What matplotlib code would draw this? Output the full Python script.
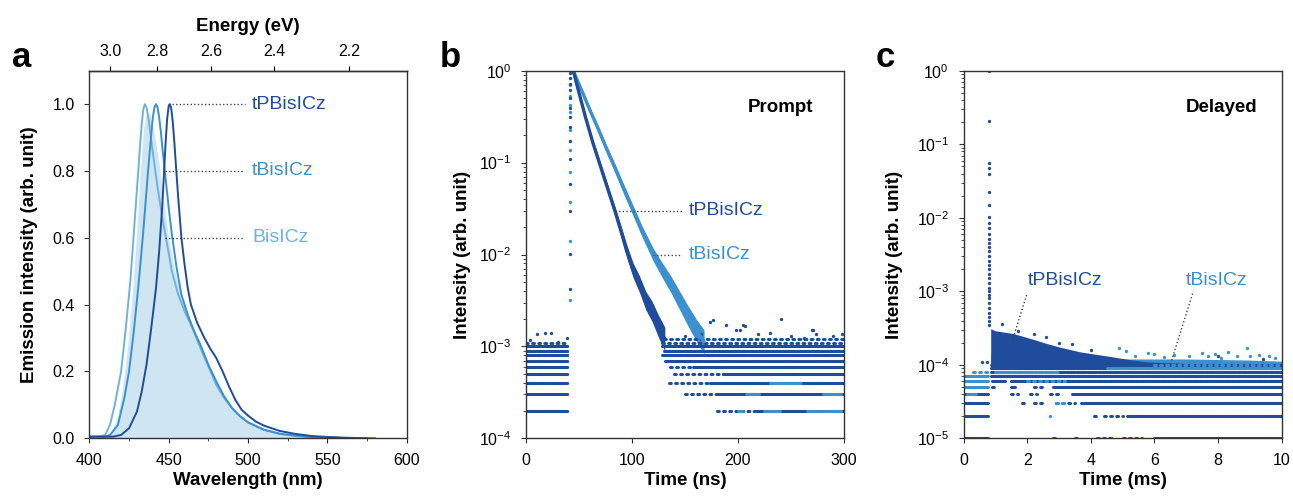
import numpy as np
import matplotlib
matplotlib.use("Agg")
import matplotlib.pyplot as plt

plt.rcParams['font.family'] = ['Liberation Sans', 'DejaVu Sans']
plt.rcParams['axes.linewidth'] = 1.0
plt.rcParams['axes.edgecolor'] = '#333333'
plt.rcParams['xtick.labelsize'] = 11.5
plt.rcParams['ytick.labelsize'] = 11.5
plt.rcParams['xtick.major.pad'] = 7
plt.rcParams['ytick.major.pad'] = 7

DARK = '#1f4c9c'
MID = '#3b90cf'
LIGHT = '#6db3e2'
FILL = '#cfe5f2'

# ---- panel a: emission spectra ----
wl_fill = [400, 410, 414, 418, 421, 424, 427, 430, 432, 434, 436, 438, 441, 444, 447, 450, 453, 456,
           460, 465, 470, 475, 480, 485, 490, 495, 500, 510, 520, 530, 540, 560, 580]
em_fill = [0.005, 0.005, 0.02, 0.07, 0.15, 0.27, 0.43, 0.63, 0.79, 0.92, 0.98, 0.97, 0.91, 0.82,
           0.70, 0.60, 0.52, 0.46, 0.40, 0.34, 0.28, 0.22, 0.17, 0.125, 0.09, 0.066, 0.048, 0.026,
           0.014, 0.008, 0.004, 0.001, 0.0]

wl_bis = [400, 406, 410, 413, 416, 420, 423, 426, 429, 431, 432, 433, 434, 435, 436, 437, 438, 439,
          441, 443, 446, 449, 452, 456, 460, 465, 470, 475, 480, 485, 490, 495, 500, 510, 520, 530,
          540, 560, 580]
em_bis = [0.005, 0.005, 0.01, 0.04, 0.10, 0.20, 0.33, 0.48, 0.68, 0.81, 0.88, 0.94, 0.985, 1.0, 0.99,
          0.965, 0.93, 0.89, 0.82, 0.75, 0.66, 0.58, 0.50, 0.43, 0.38, 0.33, 0.27, 0.215, 0.16, 0.12,
          0.09, 0.066, 0.047, 0.025, 0.013, 0.007, 0.004, 0.001, 0.0]

wl_tbis = [400, 410, 413, 418, 422, 425, 428, 431, 434, 437, 439, 440, 441, 442, 443, 444, 445, 446,
           448, 450, 452, 455, 458, 462, 466, 470, 475, 480, 485, 490, 495, 500, 510, 520, 530, 540,
           560, 580]
em_tbis = [0.005, 0.005, 0.01, 0.04, 0.12, 0.20, 0.32, 0.46, 0.62, 0.80, 0.91, 0.96, 0.99, 1.0, 0.99,
           0.96, 0.92, 0.87, 0.78, 0.69, 0.61, 0.51, 0.43, 0.37, 0.32, 0.28, 0.22, 0.17, 0.125, 0.09,
           0.066, 0.048, 0.026, 0.014, 0.008, 0.004, 0.001, 0.0]

wl_tpb = [400, 415, 420, 425, 430, 433, 436, 439, 442, 444, 446, 447, 448, 449, 450, 450.7, 451.5,
          452.5, 453.5, 454.5, 456, 458, 460, 462, 464, 468, 472, 476, 480, 484, 488, 492, 496, 500,
          505, 510, 520, 530, 540, 550, 560, 575]
em_tpb = [0.005, 0.005, 0.01, 0.03, 0.08, 0.14, 0.22, 0.33, 0.45, 0.56, 0.70, 0.79, 0.88, 0.955,
          0.995, 1.0, 0.99, 0.95, 0.89, 0.82, 0.72, 0.60, 0.52, 0.45, 0.40, 0.345, 0.305, 0.27, 0.24,
          0.20, 0.155, 0.115, 0.085, 0.068, 0.05, 0.038, 0.022, 0.013, 0.007, 0.004, 0.002, 0.0]

energy_ticks = [3.0, 2.8, 2.6, 2.4, 2.2]

# ---- panel b: prompt decay (time ns, log10 intensity, half width in decades) ----
tb_tpb = [44.6, 50, 56, 63, 70, 77, 84, 90, 95, 101, 107, 113, 119, 125, 131]
lb_tpb = [0, -0.24, -0.5, -0.78, -1.03, -1.28, -1.53, -1.76, -1.96, -2.17, -2.32, -2.5, -2.62, -2.78, -2.92]
wb_tpb = [0.02, 0.025, 0.03, 0.035, 0.04, 0.045, 0.05, 0.06, 0.07, 0.08, 0.09, 0.1, 0.11, 0.12, 0.13]

tb_tbis = [44.6, 52, 60, 68, 76, 84, 92, 101, 110, 120, 128, 137, 145, 153, 161, 168]
lb_tbis = [0, -0.2, -0.42, -0.63, -0.85, -1.06, -1.28, -1.52, -1.76, -2.0, -2.16, -2.33, -2.5, -2.67, -2.83, -2.95]
wb_tbis = [0.02, 0.025, 0.03, 0.035, 0.04, 0.045, 0.05, 0.055, 0.06, 0.07, 0.08, 0.09, 0.1, 0.11, 0.12, 0.13]

rise_t = 41.5
rise_tpb = [-0.03, -0.08, -0.14, -0.21, -0.30, -0.41, -0.50, -0.61, -0.77, -0.96, -1.23, -1.53, -1.99, -2.38]
rise_tbis = [-0.16, -0.27, -0.37, -0.45, -0.65, -0.86, -1.10, -1.43, -1.85, -2.49]

# noise rows: (counts x1e-4, start ns, end ns, dense?)
rows_b = [(2, 0, 40, 1), (3, 0, 40, 1), (4, 0, 40, 1), (5, 0, 40, 1), (6, 0, 40, 1), (7, 0, 40, 1),
          (8, 0, 40, 1), (9, 0, 40, 1), (10, 0, 40, 1), (11, 0, 40, 0),
          (12, 130, 300, 0), (11, 128, 300, 0), (10, 128, 300, 1), (9, 130, 300, 1), (8, 128, 300, 1),
          (7, 131, 300, 1), (6, 136, 158, 0), (6, 158, 300, 1), (5, 140, 186, 0), (5, 186, 300, 1),
          (4, 135, 174, 0), (4, 174, 300, 1), (3, 150, 180, 0), (3, 180, 300, 1),
          (2, 180, 218, 0), (2, 218, 300, 1)]
rows_b_light = [(3, 208, 220), (3, 280, 297), (2, 200, 205), (2, 225, 240), (2, 265, 297), (4, 230, 260)]
scat_b_t = [3.8, 10, 17.9, 23.3, 30.5, 38.4, 150, 165, 173.6, 176.4, 189, 198, 202, 205, 206.6, 219,
            230, 241, 250, 262, 269.5, 271, 274, 275.8, 290, 297.8]
scat_b_i = [1.17e-3, 1.38e-3, 1.4e-3, 1.4e-3, 1.12e-3, 1.22e-3, 1.3e-3, 1.35e-3, 1.85e-3, 1.95e-3,
            1.7e-3, 1.5e-3, 1.5e-3, 1.7e-3, 1.66e-3, 1.38e-3, 1.4e-3, 2.0e-3, 1.3e-3, 1.25e-3,
            1.5e-3, 1.5e-3, 1.35e-3, 1.2e-3, 1.3e-3, 1.35e-3]

# ---- panel c: delayed decay (time ms) ----
spike_t = 0.8
spike_i = [1.0, 0.21, 0.056, 0.047, 0.04, 0.0225, 0.0148, 0.0103, 0.0085, 0.0072, 0.006, 0.0052,
           0.0045, 0.004, 0.0035, 0.003, 0.0026, 0.0023, 0.002, 0.0017, 0.0015, 0.0013, 0.0011,
           0.001, 0.0009, 0.0008, 0.0007, 0.0006, 0.0005, 0.00045, 0.0004, 0.00035]
tc_tpb = [0.85, 1.0, 1.56, 2.0, 2.61, 3.0, 3.66, 4.2, 4.7, 5.2, 5.75, 6.3, 6.8, 7.3]
up_tpb = [3.1e-4, 2.9e-4, 2.66e-4, 2.35e-4, 1.95e-4, 1.75e-4, 1.5e-4, 1.38e-4, 1.28e-4, 1.18e-4,
          1.1e-4, 1.07e-4, 1.05e-4, 1.02e-4]
tc_tbis = [0.85, 2, 3, 4, 5, 6, 7, 8, 9, 10]
up_tbis = [1.45e-4, 1.3e-4, 1.25e-4, 1.22e-4, 1.2e-4, 1.2e-4, 1.2e-4, 1.18e-4, 1.16e-4, 1.12e-4]

# noise rows: (counts x1e-5, start ms, end ms, dense?)
rows_c = [(1, 0, 0.78, 1), (2, 0, 0.78, 1), (3, 0, 0.75, 1), (4, 0, 0.78, 1),
          (10, 0.85, 10, 1), (9, 0.85, 10, 1), (8, 0.85, 10, 1), (7, 0.85, 10, 1), (6, 0.9, 1.3, 1),
          (6, 1.5, 10, 1), (5, 0.9, 1.05, 0), (5, 1.5, 1.6, 1), (5, 2.2, 2.6, 0), (5, 2.8, 10, 1),
          (4, 1.5, 1.7, 0), (4, 2.1, 2.3, 0), (4, 2.7, 3.1, 0), (4, 3.4, 10, 1),
          (3, 1.85, 2.0, 0), (3, 2.2, 2.6, 0), (3, 2.9, 3.5, 0), (3, 3.7, 10, 1),
          (2, 4.1, 4.15, 0), (2, 4.4, 5.0, 0), (2, 5.15, 10, 1),
          (1, 2.8, 3.0, 0), (1, 3.5, 3.55, 0), (1, 4.2, 4.7, 0), (1, 5.0, 5.6, 0), (1, 6.0, 10, 1)]
rows_c_light = [(8, 0.3, 0.78, 0), (7, 0, 0.78, 1), (6, 0, 0.78, 1), (5, 0, 0.78, 1), (4, 0.1, 0.4, 1),
                (9, 4.5, 10, 1), (8, 1.0, 3.0, 1), (6, 2.0, 3.2, 0), (3, 2.9, 3.2, 0), (10, 6, 10, 0)]
scat_c_light_t = [2.7, 4.9, 5.1, 5.8, 6.0, 7.5, 8.3, 8.9, 9.3, 9.6, 6.6, 7.9, 5.4, 7.1, 8.6, 9.8,
                  6.3, 7.7, 8.1, 9.0]
scat_c_light_i = [2.0e-5, 1.7e-4, 1.55e-4, 1.45e-4, 1.4e-4, 1.45e-4, 1.5e-4, 1.7e-4, 1.35e-4, 1.3e-4,
                  1.35e-4, 1.4e-4, 1.3e-4, 1.3e-4, 1.3e-4, 1.25e-4, 1.28e-4, 1.32e-4, 1.25e-4, 1.3e-4]
scat_c_dark_t = [0.57, 0.72, 1.2, 2.6, 3.0, 4.0, 8.0, 9.4, 1.7, 2.2, 3.4]
scat_c_dark_i = [1.1e-4, 1.1e-4, 3.6e-4, 2.4e-4, 2.0e-4, 1.6e-4, 1.3e-4, 1.2e-4, 2.9e-4, 2.6e-4, 1.9e-4]


fig = plt.figure(figsize=(12.93, 4.96), dpi=100)
axa = fig.add_axes([0.0691, 0.1163, 0.2455, 0.7411])
axb = fig.add_axes([0.4068, 0.1163, 0.2459, 0.7411])
axc = fig.add_axes([0.7453, 0.1163, 0.2459, 0.7411])

lab_kw = dict(fontsize=13.5, fontweight='bold')
dot_kw = dict(color='#444444', lw=1.0, linestyle=(0, (1, 1.6)))

# ---- a ----
axa.fill_between(wl_fill, em_fill, 0, color=FILL, lw=0)
axa.plot(wl_bis, em_bis, color=LIGHT, lw=1.4)
axa.plot(wl_tbis, em_tbis, color=MID, lw=1.4)
axa.plot(wl_tpb, em_tpb, color=DARK, lw=1.4)
axa.set_xlim(400, 600)
axa.set_ylim(0, 1.1)
axa.set_xticks([400, 450, 500, 550, 600])
axa.set_xticks([425, 475, 525, 575], minor=True)
axa.set_yticks([0, 0.2, 0.4, 0.6, 0.8, 1.0])
axa.yaxis.set_major_formatter(matplotlib.ticker.FormatStrFormatter('%.1f'))
axa.set_xlabel('Wavelength (nm)', labelpad=3, **lab_kw)
axa.set_ylabel('Emission intensity (arb. unit)', labelpad=10, **lab_kw)
sec = axa.secondary_xaxis('top', functions=(lambda x: 1239.84 / x, lambda e: 1239.84 / e))
sec.set_xticks(energy_ticks)
sec.xaxis.set_major_formatter(matplotlib.ticker.FormatStrFormatter('%.1f'))
sec.tick_params(labelsize=11.5, pad=5)
sec.set_xlabel('Energy (eV)', labelpad=9, **lab_kw)
axa.plot([452.2, 498], [1.0, 1.0], **dot_kw)
axa.plot([447.7, 496.5], [0.8, 0.8], **dot_kw)
axa.plot([447.7, 496.5], [0.6, 0.6], **dot_kw)
axa.text(502.5, 1.0, 'tPBisICz', color=DARK, fontsize=14, va='center')
axa.text(502.5, 0.8, 'tBisICz', color=MID, fontsize=14, va='center')
axa.text(502.5, 0.6, 'BisICz', color=LIGHT, fontsize=14, va='center')


def draw_rows(ax, rows, unit, color):
    for r in rows:
        lv, t0, t1 = r[0] * unit, r[1], r[2]
        dense = r[3] if len(r) > 3 else 1
        if dense:
            ax.plot([t0, t1], [lv, lv], color=color, lw=2.2, linestyle=(0, (3, 0.5)),
                    dash_capstyle='round')
        else:
            ax.plot([t0, t1], [lv, lv], color=color, lw=2.2, linestyle=(0, (0.6, 1.4)),
                    dash_capstyle='round')


def draw_band(ax, t, logc, w, color):
    logc = np.array(logc)
    w = np.array(w)
    ax.fill_between(t, 10 ** (logc - w), 10 ** (logc + w), color=color, lw=0)
    ax.plot(t, 10 ** logc, color=color, lw=2.4, solid_capstyle='round')


# ---- b ----
draw_rows(axb, rows_b, 1e-4, DARK)
draw_rows(axb, rows_b_light, 1e-4, MID)
axb.plot(scat_b_t, scat_b_i, 'o', ms=2.4, color=DARK, mew=0)
draw_band(axb, tb_tbis, lb_tbis, wb_tbis, MID)
draw_band(axb, tb_tpb, lb_tpb, wb_tpb, DARK)
axb.plot([rise_t] * len(rise_tbis), 10 ** np.array(rise_tbis), 'o', ms=2.4, color=MID, mew=0)
axb.plot([rise_t] * len(rise_tpb), 10 ** np.array(rise_tpb), 'o', ms=2.4, color=DARK, mew=0)
axb.set_yscale('log')
axb.set_xlim(0, 300)
axb.set_ylim(1e-4, 1)
axb.set_xticks([0, 100, 200, 300])
axb.set_xlabel('Time (ns)', labelpad=3, **lab_kw)
axb.set_ylabel('Intensity (arb. unit)', labelpad=6, **lab_kw)
axb.text(0.905, 0.9, 'Prompt', transform=axb.transAxes, ha='right', va='center',
         fontsize=13.5, fontweight='bold')
axb.plot([84, 147], [0.03, 0.03], **dot_kw)
axb.plot([120, 147], [0.01, 0.01], **dot_kw)
axb.text(153.5, 0.03, 'tPBisICz', color=DARK, fontsize=14, va='center')
axb.text(153.5, 0.01, 'tBisICz', color=MID, fontsize=14, va='center')

# ---- c ----
draw_rows(axc, rows_c, 1e-5, DARK)
draw_rows(axc, rows_c_light, 1e-5, MID)
axc.fill_between(tc_tbis, 1e-4, up_tbis, color=MID, lw=0)
axc.fill_between(tc_tpb, 1e-4, up_tpb, color=DARK, lw=0)
axc.plot(scat_c_light_t, scat_c_light_i, 'o', ms=2.4, color=MID, mew=0)
axc.plot(scat_c_dark_t, scat_c_dark_i, 'o', ms=2.4, color=DARK, mew=0)
axc.plot([spike_t] * len(spike_i), spike_i, 'o', ms=2.4, color=DARK, mew=0)
axc.set_yscale('log')
axc.set_xlim(0, 10)
axc.set_ylim(1e-5, 1)
axc.set_xticks([0, 2, 4, 6, 8, 10])
axc.set_xlabel('Time (ms)', labelpad=3, **lab_kw)
axc.set_ylabel('Intensity (arb. unit)', labelpad=10, **lab_kw)
axc.text(0.925, 0.9, 'Delayed', transform=axc.transAxes, ha='right', va='center',
         fontsize=13.5, fontweight='bold')
axc.plot([1.98, 1.51], [8.9e-4, 2.0e-4], **dot_kw)
axc.plot([7.2, 6.54], [9.3e-4, 1.15e-4], **dot_kw)
axc.text(2.03, 1.41e-3, 'tPBisICz', color=DARK, fontsize=14, va='center')
axc.text(6.98, 1.41e-3, 'tBisICz', color=MID, fontsize=14, va='center')

for ax in (axa, axb, axc):
    ax.tick_params(which='both', direction='out', color='#333333')

fig.text(0.009, 0.865, 'a', fontsize=25, fontweight='bold')
fig.text(0.340, 0.865, 'b', fontsize=25, fontweight='bold')
fig.text(0.677, 0.865, 'c', fontsize=25, fontweight='bold')

fig.savefig('out.png', dpi=100)
